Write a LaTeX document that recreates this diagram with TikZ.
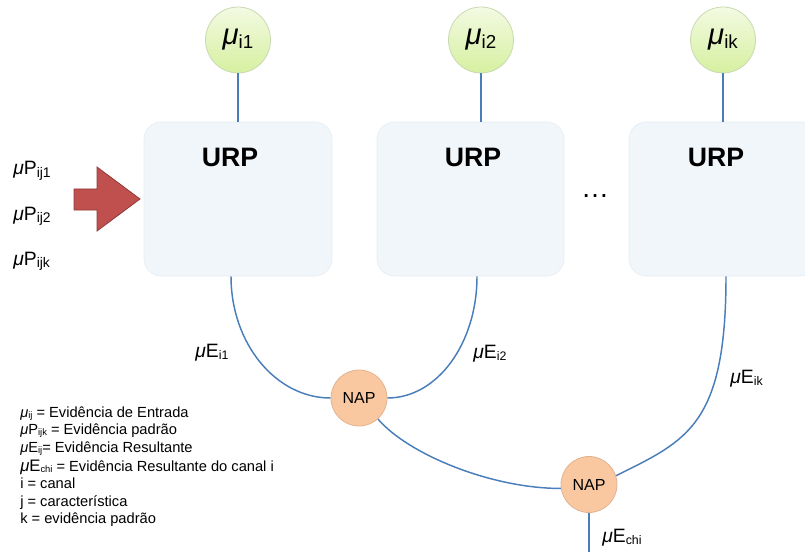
\documentclass[tikz,border=0pt]{standalone}
\usepackage{fontspec}
\usepackage{graphicx}
\setmainfont{Liberation Sans}
\usetikzlibrary{shapes.geometric,calc}
\definecolor{linkblue}{HTML}{4A7EBB}
\definecolor{boxfill}{HTML}{F1F6FA}
\definecolor{boxline}{HTML}{E6EDF2}
\definecolor{elltop}{HTML}{F3FAE2}
\definecolor{ellbot}{HTML}{D6F0A0}
\definecolor{ellline}{HTML}{C9D9B2}
\definecolor{napfill}{HTML}{F9C8A0}
\definecolor{napline}{HTML}{E2B392}
\definecolor{arrfill}{HTML}{C0504D}
\definecolor{arrline}{HTML}{8E3B39}
\newcommand{\sbx}[1]{\raisebox{-0.22ex}{\scalebox{0.64}{#1}}}
\newcommand{\sbw}[1]{\raisebox{-0.22ex}{\scalebox{0.72}{#1}}}
\newcommand{\mmu}{\textit{μ}}
\begin{document}
\begin{tikzpicture}[x=0.75pt,y=-0.75pt,
  ellnode/.style={ellipse,draw=ellline,line width=0.6pt,top color=elltop,bottom color=ellbot,
    minimum width=48.75pt,minimum height=49.5pt,inner sep=0pt,font=\fontsize{22}{22}\selectfont},
  urpbox/.style={rectangle,rounded corners=13pt,fill=boxfill,draw=boxline,line width=0.5pt,
    minimum height=115.5pt,inner sep=0pt},
  urptext/.style={font=\fontsize{20}{20}\selectfont\bfseries,anchor=base,inner sep=0pt},
  napnode/.style={circle,fill=napfill,draw=napline,line width=0.6pt,minimum size=42pt,inner sep=0pt,
    font=\fontsize{12}{12}\selectfont},
  link/.style={draw=linkblue,line width=1.1pt},
  lbl/.style={anchor=base west,inner sep=0pt,font=\fontsize{14.5}{14.5}\selectfont},
  leg/.style={anchor=base west,inner sep=0pt,font=\fontsize{11}{11}\selectfont}]
\useasboundingbox (0,0) rectangle (805,552);
% URP boxes
\node[urpbox,minimum width=141pt] (box1) at (238,199) {};
\node[urpbox,minimum width=140.25pt] (box2) at (470.5,199) {};
\node[urpbox,minimum width=141pt] (box3) at (723,199) {};
\node[urptext] (urp1) at (230,167) {URP};
\node[urptext] (urp2) at (473,167) {URP};
\node[urptext] (urp3) at (716,167) {URP};
\node[inner sep=0pt,font=\fontsize{21}{21}\selectfont] (dots) at (595,196) {…};
% input ellipses
\node[ellnode] (e1) at (238,40) {\mmu\sbx{i1}};
\node[ellnode] (e2) at (481,40) {\mmu\sbx{i2}};
\node[ellnode] (e3) at (723,40) {\mmu\sbx{ik}};
\draw[link] (e1.south) -- (e1.south |- box1.north);
\draw[link] (e2.south) -- (e2.south |- box2.north);
\draw[link] (e3.south) -- (e3.south |- box3.north);
% NAP nodes
\node[napnode] (nap1) at (359,398) {NAP};
\node[napnode] (nap2) at (589,484.5) {NAP};
\coordinate (chiend) at (589,560);
% connectors
\draw[link] ($(box1.south)+(-7,0)$) .. controls +(0,67) and +(-55,0) .. (nap1.west);
\draw[link] ($(box2.south)+(6.5,0)$) .. controls +(0,67) and +(50,0) .. (nap1.east);
\draw[link] (nap1.-48) .. controls +(30,35) and +(-70,0) .. (nap2.188);
\draw[link] ($(box3.south)+(3,0)$) .. controls +(0,150) and +(70,-35) .. (nap2.18);
\draw[link] (nap2.south) -- (chiend);
% red arrow
\draw[fill=arrfill,draw=arrline,line width=0.6pt,line join=miter]
  (74,189) -- (97,189) -- (97,167) -- (140,199) -- (97,231) -- (97,210) -- (74,210) -- cycle;
% left labels
\node[lbl] (p1) at (13,175) {\mmu P\sbw{ij1}};
\node[lbl] (p2) at (13,220) {\mmu P\sbw{ij2}};
\node[lbl] (p3) at (13,265) {\mmu P\sbw{ijk}};
% edge labels
\node[lbl] (l1) at (195,357) {\mmu E\sbx{i1}};
\node[lbl] (l2) at (473,358) {\mmu E\sbx{i2}};
\node[lbl] (l3) at (730,383) {\mmu E\sbx{ik}};
\node[lbl] (l4) at (602,542) {\mmu E\sbx{chi}};
% legend
\node[leg] (g1) at (20,417) {\mmu\sbx{ij} = Evidência de Entrada};
\node[leg] (g2) at (20,434) {\mmu P\sbx{ijk} = Evidência padrão};
\node[leg] (g3) at (20,452) {\mmu E\sbx{ij}= Evidência Resultante};
\node[leg] (g4) at (20,471) {{\fontsize{12.5}{12.5}\selectfont\mmu E}\sbx{chi} = Evidência Resultante do canal i};
\node[leg] (g5) at (20,488) {i = canal};
\node[leg] (g6) at (20,506) {j = característica};
\node[leg] (g7) at (20,523) {k = evidência padrão};
\end{tikzpicture}
\end{document}
